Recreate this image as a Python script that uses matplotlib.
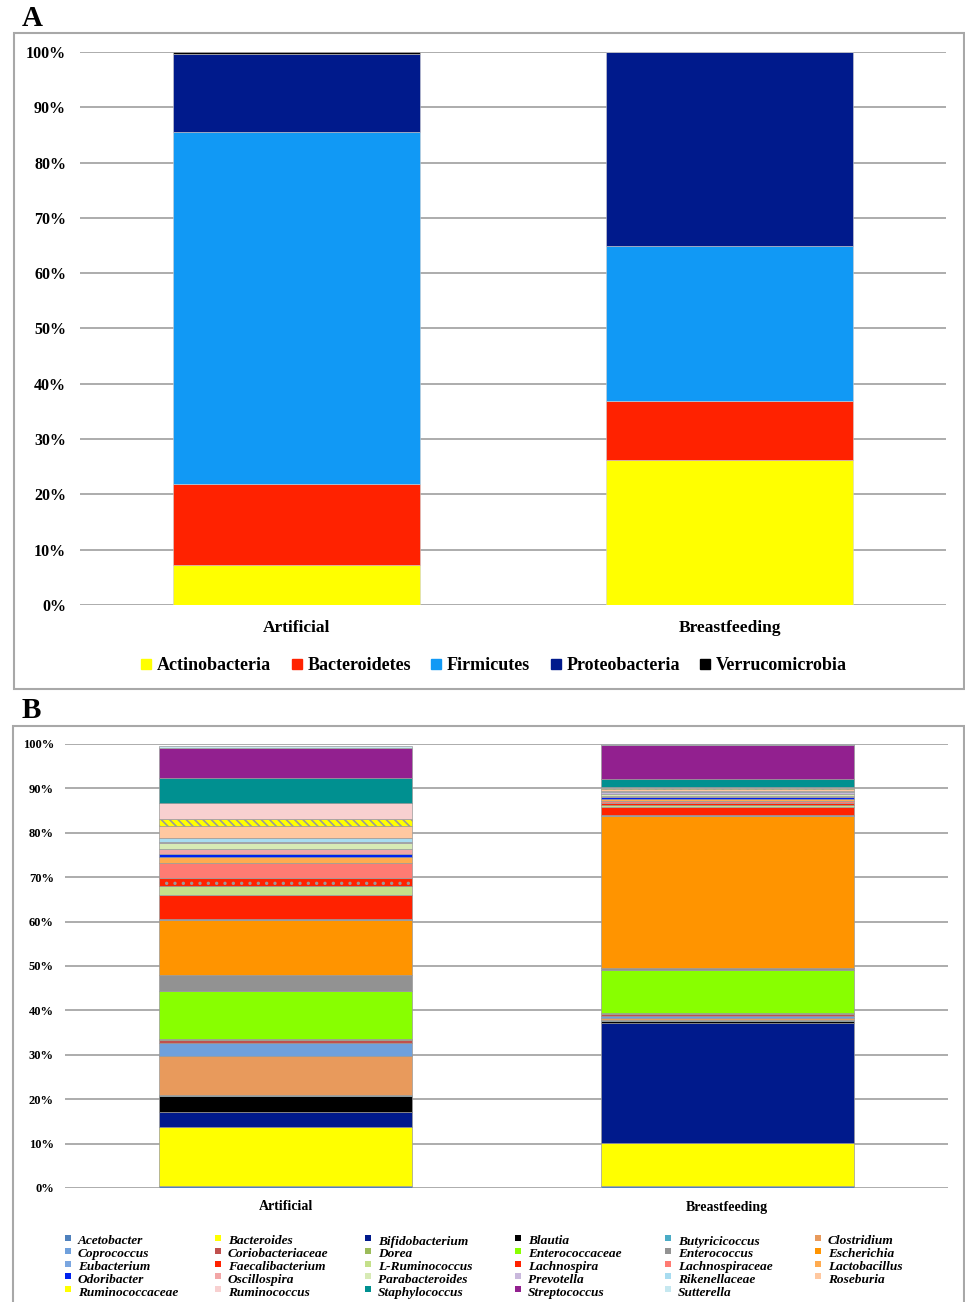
import numpy as np
import matplotlib.pyplot as plt
from matplotlib.patches import Rectangle
from matplotlib.lines import Line2D

plt.rcParams['font.family'] = ['Liberation Serif', 'DejaVu Serif']
plt.rcParams['hatch.linewidth'] = 1.2

groups = ['Artificial', 'Breastfeeding']

# panel A: phyla (% relative abundance)
phyla = ['Actinobacteria', 'Bacteroidetes', 'Firmicutes', 'Proteobacteria', 'Verrucomicrobia']
phyla_art = [7.2, 14.7, 63.6, 14.1, 0.4]
phyla_bf = [26.2, 10.7, 28.0, 35.1, 0.0]
phyla_col = ['#ffff00', '#ff2200', '#1199f5', '#001a8c', '#000000']

# panel B: genera (% relative abundance)
genera = ['Acetobacter', 'Bacteroides', 'Bifidobacterium', 'Blautia', 'Butyricicoccus',
          'Clostridium', 'Coprococcus', 'Coriobacteriaceae', 'Dorea', 'Enterococcaceae',
          'Enterococcus', 'Escherichia', 'Eubacterium', 'Faecalibacterium', 'L-Ruminococcus',
          'Lachnospira', 'Lachnospiraceae', 'Lactobacillus', 'Odoribacter', 'Oscillospira',
          'Parabacteroides', 'Prevotella', 'Rikenellaceae', 'Roseburia', 'Ruminococcaceae',
          'Ruminococcus', 'Staphylococcus', 'Streptococcus', 'Sutterella']
gen_art = [0.4, 13.3, 3.4, 3.6, 0.3, 8.7, 3.0, 0.6, 0.3, 10.8,
           3.5, 12.4, 0.2, 5.4, 2.2, 1.8, 3.2, 1.4, 0.7, 1.2,
           1.2, 0.3, 1.0, 2.6, 1.5, 3.8, 5.5, 6.9, 0.4]
gen_bf = [0.5, 9.6, 27.1, 0.4, 0.3, 0.5, 0.4, 0.3, 0.4, 9.5,
          0.5, 34.3, 0.1, 2.0, 0.4, 0.4, 0.5, 0.5, 0.3, 0.4,
          0.4, 0.3, 0.4, 0.3, 0.3, 0.2, 1.8, 7.6, 0.2]
gen_col = ['#4f81bd', '#ffff00', '#001a8c', '#000000', '#4bacc6',
           '#e89a5c', '#6fa0dc', '#c0504d', '#9bbb59', '#88ff00',
           '#929292', '#ff9400', '#7aa6e0', '#ff2200', '#c4e08a',
           '#ff2200', '#ff7b73', '#ffab4f', '#0022ee', '#f2a6a6',
           '#d7eab5', '#c9b8dc', '#a8dcf0', '#ffc8a0', '#ffff00',
           '#f8d0d0', '#009090', '#92208f', '#c6e8f0']
gen_hatch = {'Lachnospira': '..', 'Ruminococcaceae': '\\\\\\\\'}

fig = plt.figure(figsize=(9.65, 13.02), dpi=100)
W, H = 965.0, 1302.0

def box(x0, y0, x1, y1):
    fig.patches.append(Rectangle((x0 / W, 1 - y1 / H), (x1 - x0) / W, (y1 - y0) / H,
                                 transform=fig.transFigure, fill=False,
                                 edgecolor='#a8a8a8', lw=1.5))

box(14, 33, 964, 689)
box(13, 726, 964, 1310)
fig.text(22 / W, 1 - 19 / H, 'A', fontsize=21, fontweight='bold', va='center')
fig.text(22 / W, 1 - 710 / H, 'B', fontsize=21, fontweight='bold', va='center')

def style(ax, fs, pad, xfs, xpad):
    ax.set_xlim(-0.5, 1.5)
    ax.set_ylim(0, 100)
    ax.set_yticks(np.arange(0, 101, 10))
    ax.set_yticklabels(['%d%%' % v for v in range(0, 101, 10)], fontsize=fs, fontweight='bold')
    ax.yaxis.grid(True, color='#a6a6a6', lw=1.3)
    ax.set_axisbelow(True)
    ax.tick_params(axis='y', length=0, pad=pad)
    ax.tick_params(axis='x', length=0, pad=xpad)
    ax.set_xticks(range(len(groups)))
    ax.set_xticklabels(groups, fontsize=xfs, fontweight='bold')
    for s in ax.spines.values():
        s.set_visible(False)

# ---- panel A
axA = fig.add_axes([80 / W, 1 - 605 / H, 866 / W, 553 / H])
x = np.arange(len(groups))
bottom = np.zeros(2)
for name, a, b, c in zip(phyla, phyla_art, phyla_bf, phyla_col):
    vals = np.array([a, b])
    axA.bar(x, vals, 0.57, bottom=bottom, color=c, edgecolor='#d0d0d0', lw=0.4, label=name)
    bottom += vals
style(axA, 11.5, 10, 12.5, 11)

handlesA = [Line2D([], [], ls='', marker='s', ms=6.5, color=c) for c in phyla_col]
fig.legend(handlesA, phyla, loc='center', bbox_to_anchor=(494 / W, 1 - 666 / H), ncol=5,
           frameon=False, prop={'weight': 'bold', 'size': 13}, handlelength=0.6,
           handletextpad=0.3, columnspacing=1.1)

# ---- panel B
axB = fig.add_axes([65 / W, 1 - 1188 / H, 883 / W, 444 / H])
bottom = np.zeros(2)
for name, a, b, c in zip(genera, gen_art, gen_bf, gen_col):
    vals = np.array([a, b])
    h = gen_hatch.get(name)
    axB.bar(x, vals, 0.572, bottom=bottom, color=c, edgecolor='#9a9a9a', lw=0.5,
            hatch=h, label=name)
    bottom += vals
style(axB, 9, 8, 10, 9)

# legend B, row-major grid of 6 columns
for i, (name, c) in enumerate(zip(genera, gen_col)):
    r, col = divmod(i, 6)
    xm = 68 + 150 * col
    ym = 1240 + 12.8 * r
    fig.patches.append(Rectangle(((xm - 3) / W, 1 - (ym + 1) / H), 6 / W, 6 / H,
                                 transform=fig.transFigure, facecolor=c, edgecolor='none',
                                 hatch=gen_hatch.get(name) if name == 'Ruminococcaceae' else None))
    fig.text((xm + 10) / W, 1 - (ym + 1.5) / H, name, fontsize=9.6, fontweight='bold',
             fontstyle='italic', va='center')

fig.savefig('out.png', dpi=100)
